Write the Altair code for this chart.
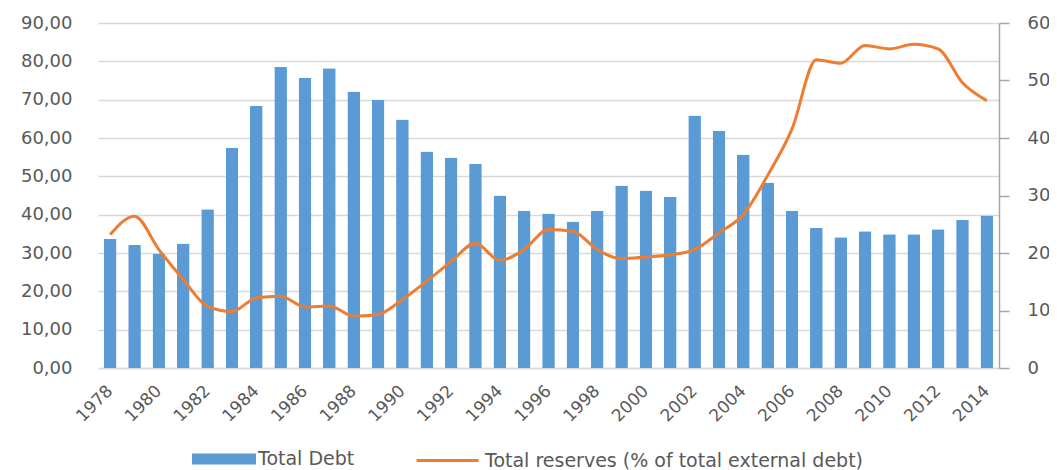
import altair as alt
import pandas as pd

years = list(range(1978, 2015))
total_debt = [33.7, 32.1, 29.9, 32.5, 41.4, 57.4, 68.4, 78.5, 75.7, 78.2,
              72.1, 70.0, 64.8, 56.5, 54.9, 53.3, 45.0, 41.0, 40.3, 38.2,
              41.0, 47.6, 46.3, 44.7, 65.9, 61.8, 55.7, 48.4, 41.0, 36.5,
              34.1, 35.7, 34.9, 34.9, 36.2, 38.6, 39.8]
reserves = [23.2, 26.4, 20.6, 15.4, 10.7, 9.8, 12.2, 12.5, 10.6, 10.8,
            9.0, 9.3, 11.9, 15.1, 18.5, 21.7, 18.7, 20.6, 24.1, 23.8,
            20.6, 19.0, 19.3, 19.7, 20.6, 23.5, 26.7, 33.5, 41.6, 53.6,
            53.0, 56.1, 55.5, 56.3, 55.5, 49.6, 46.5]
x_tick_labels = list(range(1978, 2015, 2))
left_ticks = [0, 10, 20, 30, 40, 50, 60, 70, 80, 90]
right_ticks = [0, 10, 20, 30, 40, 50, 60]
debt_name = "Total Debt"
res_name = "Total reserves (% of total external debt)"

df = pd.DataFrame({
    "year": years,
    "debt": total_debt,
    "reserves": reserves,
    "debt_label": [debt_name] * len(years),
    "res_label": [res_name] * len(years),
})

TXT = "#595959"
GRID = "#d9d9d9"
AXIS = "#a6a6a6"
FONT = "DejaVu Sans"

base = alt.Chart(df).encode(
    x=alt.X(
        "year:O",
        title=None,
        scale=alt.Scale(paddingInner=0.48, paddingOuter=0.24),
        axis=alt.Axis(
            values=x_tick_labels,
            labelAngle=-45,
            labelAlign="right",
            labelBaseline="middle",
            labelFont=FONT,
            labelFontSize=17,
            labelColor=TXT,
            labelPadding=20,
            ticks=False,
            domain=True,
            domainColor=GRID,
            domainWidth=1.5,
            grid=False,
            zindex=0,
        ),
    )
)

bars = base.mark_bar(cornerRadiusTopLeft=1, cornerRadiusTopRight=1).encode(
    y=alt.Y(
        "debt:Q",
        title=None,
        scale=alt.Scale(domain=[0, 90], nice=False),
        axis=alt.Axis(
            orient="left",
            values=left_ticks,
            labelExpr="replace(format(datum.value, '.2f'), '.', ',')",
            labelFont=FONT,
            labelFontSize=18,
            labelColor=TXT,
            labelPadding=26,
            ticks=False,
            domain=False,
            grid=True,
            gridColor=GRID,
            gridWidth=1.5,
            zindex=0,
        ),
    ),
    fill=alt.Fill(
        "debt_label:N",
        scale=alt.Scale(domain=[debt_name], range=["#5b9bd5"]),
        legend=alt.Legend(
            title=None,
            orient="none",
            legendX=94,
            legendY=404,
            symbolType="M-1,-0.17H1V0.17H-1Z",
            symbolSize=4096,
            symbolStrokeWidth=0,
            symbolOpacity=1,
            labelFont=FONT,
            labelFontSize=19,
            labelColor=TXT,
            labelOffset=2,
            labelLimit=600,
            padding=0,
        ),
    ),
)

line = base.mark_line(strokeWidth=3, interpolate="monotone").encode(
    y=alt.Y(
        "reserves:Q",
        title=None,
        scale=alt.Scale(domain=[0, 60], nice=False),
        axis=alt.Axis(
            orient="right",
            values=right_ticks,
            labelFont=FONT,
            labelFontSize=18,
            labelColor=TXT,
            labelPadding=18,
            ticks=True,
            tickSize=10,
            tickColor=AXIS,
            tickWidth=1.5,
            domain=True,
            domainColor=AXIS,
            domainWidth=1.5,
            grid=False,
        ),
    ),
    stroke=alt.Stroke(
        "res_label:N",
        scale=alt.Scale(domain=[res_name], range=["#ed7d31"]),
        legend=alt.Legend(
            title=None,
            orient="none",
            legendX=317,
            legendY=405,
            symbolType="stroke",
            symbolSize=3844,
            symbolStrokeWidth=3,
            labelFont=FONT,
            labelFontSize=19,
            labelColor=TXT,
            labelOffset=5,
            labelLimit=600,
            padding=0,
        ),
    ),
)

chart = (
    alt.layer(bars, line)
    .resolve_scale(y="independent", fill="independent", stroke="independent")
    .properties(
        width=901,
        height=345,
        padding={"left": 90, "top": 15, "right": 50, "bottom": 102},
        autosize=alt.AutoSizeParams(type="none"),
        background="white",
    )
    .configure_view(strokeWidth=0, stroke="transparent")
)

chart.save("out.html", embed_options={"renderer": "svg", "actions": False})
